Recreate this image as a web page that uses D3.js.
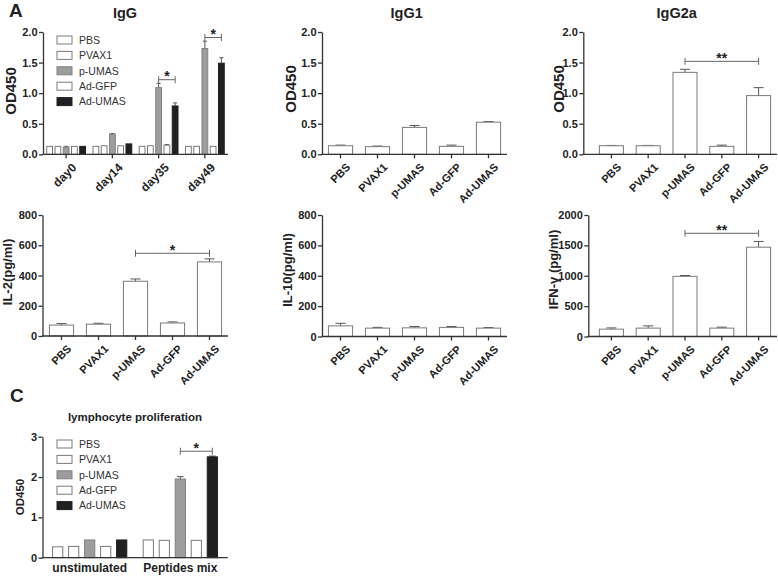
<!DOCTYPE html>
<html><head><meta charset="utf-8">
<script src="https://cdn.jsdelivr.net/npm/d3@7"></script>
<style>
body{margin:0;background:#fff}
svg{display:block}
text{font-family:"Liberation Sans",Arial,sans-serif;fill:#222}
</style>
</head><body>
<svg id="chart" width="778" height="576"></svg>
<script>
// ---------- data ----------
const groups = ["PBS", "PVAX1", "p-UMAS", "Ad-GFP", "Ad-UMAS"];
const days = ["day0", "day14", "day35", "day49"];
const stimuli = ["unstimulated", "Peptides mix"];

// IgG: rows = groups, columns = days
const iggMean = [
  [0.13, 0.13, 0.13, 0.13],
  [0.13, 0.14, 0.14, 0.13],
  [0.12, 0.33, 1.09, 1.73],
  [0.13, 0.14, 0.15, 0.13],
  [0.13, 0.17, 0.79, 1.49]
];
const iggErr = [
  [0.0, 0.0, 0.0, 0.0],
  [0.0, 0.0, 0.0, 0.0],
  [0.01, 0.01, 0.07, 0.12],
  [0.0, 0.0, 0.01, 0.0],
  [0.0, 0.0, 0.05, 0.09]
];
const igg1Mean = [0.14, 0.125, 0.44, 0.13, 0.525];
const igg1Err = [0.01, 0.01, 0.03, 0.02, 0.01];
const igg2aMean = [0.14, 0.14, 1.34, 0.13, 0.96];
const igg2aErr = [0.005, 0.005, 0.05, 0.02, 0.13];
const il2Mean = [72, 78, 362, 86, 490];
const il2Err = [10, 6, 15, 7, 20];
const il10Mean = [70, 55, 57, 60, 55];
const il10Err = [17, 5, 9, 6, 4];
const ifnMean = [121, 138, 990, 138, 1470];
const ifnErr = [20, 37, 14, 16, 95];
// lymphocyte proliferation: rows = groups, columns = stimuli
const lpMean = [
  [0.27, 0.44],
  [0.28, 0.43],
  [0.44, 1.95],
  [0.28, 0.43],
  [0.44, 2.50]
];
const lpErr = [
  [0.0, 0.0],
  [0.0, 0.0],
  [0.0, 0.06],
  [0.0, 0.0],
  [0.0, 0.02]
];
const yTicksOD = [0, 0.5, 1.0, 1.5, 2.0];
const yTicksIL = [0, 200, 400, 600, 800];
const yTicksIFN = [0, 500, 1000, 1500, 2000];
const yTicksLP = [0, 1, 2, 3];

// ---------- styles ----------
const fills = {"PBS": "#fff", "PVAX1": "#fff", "p-UMAS": "#9d9d9d", "Ad-GFP": "#fff", "Ad-UMAS": "#202020"};
const strokes = {"PBS": "#7a7a7a", "PVAX1": "#7a7a7a", "p-UMAS": "#808080", "Ad-GFP": "#7a7a7a", "Ad-UMAS": "#202020"};
const AX = "#333";

const svg = d3.select("#chart");
svg.append("rect").attr("width", 778).attr("height", 576).attr("fill", "#fff");

function yAxis(g, y, x, ticks, fmt) {
  const ax = g.append("g").attr("transform", `translate(${x},0)`)
    .call(d3.axisLeft(y).tickValues(ticks).tickFormat(fmt).tickSize(4).tickSizeOuter(0).tickPadding(1.5));
  ax.attr("font-family", null).attr("font-size", null);
  ax.select(".domain").attr("stroke", AX).attr("stroke-width", 1.3);
  ax.selectAll(".tick line").attr("stroke", AX).attr("stroke-width", 1.3);
  ax.selectAll(".tick text").attr("font-size", 11).attr("font-weight", "bold");
}

function xAxisLine(g, x0, x1, yb) {
  g.append("line").attr("x1", x0 - 0.6).attr("x2", x1).attr("y1", yb).attr("y2", yb)
    .attr("stroke", AX).attr("stroke-width", 1.3);
}

function xTicks(g, centers, labels, yb, size) {
  centers.forEach((cx, i) => {
    g.append("line").attr("x1", cx).attr("x2", cx).attr("y1", yb).attr("y2", yb + 4)
      .attr("stroke", AX).attr("stroke-width", 1.3);
    g.append("text").attr("transform", `translate(${cx + 5},${yb + 8}) rotate(-45)`)
      .attr("text-anchor", "end").attr("dy", "0.71em")
      .attr("font-size", size).attr("font-weight", "bold").text(labels[i]);
  });
}

function bar(g, x, w, y, v, e, grp) {
  const y0 = y(0);
  const cx = x + w / 2;
  if (e > 0) {
    const cap = Math.min(10, w * 0.6);
    g.append("line").attr("x1", cx).attr("x2", cx).attr("y1", y(v)).attr("y2", y(v + e))
      .attr("stroke", "#555").attr("stroke-width", 1);
    g.append("line").attr("x1", cx - cap / 2).attr("x2", cx + cap / 2).attr("y1", y(v + e)).attr("y2", y(v + e))
      .attr("stroke", "#555").attr("stroke-width", 1);
  }
  g.append("rect").attr("x", x + 0.5).attr("y", y(v)).attr("width", w - 1).attr("height", y0 - y(v))
    .attr("fill", fills[grp]).attr("stroke", strokes[grp]).attr("stroke-width", 1);
}

function sig(g, xa, xb, ys, label) {
  g.append("line").attr("x1", xa).attr("x2", xb).attr("y1", ys).attr("y2", ys).attr("stroke", "#666").attr("stroke-width", 1);
  [xa, xb].forEach(xx => g.append("line").attr("x1", xx).attr("x2", xx).attr("y1", ys - 3.5).attr("y2", ys + 3.5)
    .attr("stroke", "#666").attr("stroke-width", 1));
  g.append("text").attr("x", (xa + xb) / 2).attr("y", ys + 1.5).attr("text-anchor", "middle")
    .attr("font-size", 14).attr("font-weight", "bold").text(label);
}

function yLabel(g, x, cy, txt, size, weight) {
  g.append("text").attr("transform", `translate(${x},${cy}) rotate(-90)`).attr("text-anchor", "middle")
    .attr("font-size", size).attr("font-weight", weight).text(txt);
}

function legend(g, x, y0) {
  groups.forEach((grp, i) => {
    const yy = y0 + i * 15.4;
    g.append("rect").attr("x", x).attr("y", yy - 4).attr("width", 15).attr("height", 8)
      .attr("fill", fills[grp]).attr("stroke", strokes[grp]).attr("stroke-width", 1);
    g.append("text").attr("x", x + 22).attr("y", yy).attr("dy", "0.36em").attr("font-size", 10.5)
      .style("fill", "#333").text(grp);
  });
}

function title(x, y, txt, size) {
  svg.append("text").attr("x", x).attr("y", y).attr("text-anchor", "middle")
    .attr("font-size", size).attr("font-weight", "bold").text(txt);
}

// ---------- panel A: IgG grouped ----------
{
  const g = svg.append("g");
  const y = d3.scaleLinear().domain([0, 2]).range([154.3, 32]);
  const xo = d3.scaleBand().domain(days).range([43, 228]).paddingInner(0.14).paddingOuter(0.07);
  const xi = d3.scaleBand().domain(groups).range([0, xo.bandwidth()]).paddingInner(0.18);
  groups.forEach((grp, gi) => days.forEach((d, di) => {
    bar(g, xo(d) + xi(grp), xi.bandwidth(), y, iggMean[gi][di], iggErr[gi][di], grp);
  }));
  xAxisLine(g, 43, 228, y(0));
  yAxis(g, y, 43, yTicksOD, d3.format(".1f"));
  xTicks(g, days.map(d => xo(d) + xo.bandwidth() / 2), days, y(0), 12);
  const c = (d, grp) => xo(d) + xi(grp) + xi.bandwidth() / 2;
  sig(g, c("day35", "p-UMAS"), c("day35", "Ad-UMAS"), y(1.22), "*");
  sig(g, c("day49", "p-UMAS"), c("day49", "Ad-UMAS"), y(1.91), "*");
  legend(g, 57, 40);
  yLabel(g, 15.5, 91, "OD450", 15, "bold");
  title(125, 18, "IgG", 14.5);
}

// ---------- simple 5-bar panels ----------
function simplePanel(opt) {
  const g = svg.append("g");
  const y = d3.scaleLinear().domain([0, opt.max]).range(opt.yr);
  const x = d3.scaleBand().domain(groups).range(opt.xr).paddingInner(0.32).paddingOuter(0.16);
  groups.forEach((grp, i) => bar(g, x(grp), x.bandwidth(), y, opt.mean[i], opt.err[i], "PBS"));
  xAxisLine(g, opt.ax, opt.xr[1], y(0));
  yAxis(g, y, opt.ax, opt.ticks, opt.fmt);
  xTicks(g, groups.map(d => x(d) + x.bandwidth() / 2), groups, y(0), 11);
  if (opt.sig) {
    const c = grp => x(grp) + x.bandwidth() / 2;
    sig(g, c("p-UMAS"), c("Ad-UMAS"), y(opt.sig[0]), opt.sig[1]);
  }
  yLabel(g, opt.lab[0], opt.lab[1], opt.label, opt.lab[2], "bold");
}

simplePanel({max: 2, yr: [154.3, 32], xr: [322, 507], ax: 322, ticks: yTicksOD, fmt: d3.format(".1f"),
  mean: igg1Mean, err: igg1Err, label: "OD450", lab: [295.5, 89, 15]});
title(406.7, 18, "IgG1", 14.5);
simplePanel({max: 2, yr: [154.3, 32], xr: [593, 777], ax: 583.3, ticks: yTicksOD, fmt: d3.format(".1f"),
  mean: igg2aMean, err: igg2aErr, label: "OD450", lab: [563.5, 89, 15], sig: [1.52, "**"]});
title(676.7, 18, "IgG2a", 14.5);

simplePanel({max: 800, yr: [336, 215], xr: [43, 228], ax: 42.5, ticks: yTicksIL, fmt: d3.format("d"),
  mean: il2Mean, err: il2Err, label: "IL-2(pg/ml)", lab: [12, 272, 13], sig: [547, "*"]});
simplePanel({max: 800, yr: [336.5, 215], xr: [322, 507], ax: 322, ticks: yTicksIL, fmt: d3.format("d"),
  mean: il10Mean, err: il10Err, label: "IL-10(pg/ml)", lab: [292, 270, 13]});
simplePanel({max: 2000, yr: [336.5, 215], xr: [593, 777], ax: 588.3, ticks: yTicksIFN, fmt: d3.format("d"),
  mean: ifnMean, err: ifnErr, label: "IFN-γ (pg/ml)", lab: [558, 269.5, 13], sig: [1699, "**"]});

// ---------- panel C ----------
{
  const g = svg.append("g");
  const y = d3.scaleLinear().domain([0, 3]).range([557.7, 436.7]);
  const xo = d3.scaleBand().domain(stimuli).range([43, 227]).paddingInner(0.17).paddingOuter(0.1);
  const xi = d3.scaleBand().domain(groups).range([0, xo.bandwidth()]).paddingInner(0.3);
  groups.forEach((grp, gi) => stimuli.forEach((s, si) => {
    bar(g, xo(s) + xi(grp), xi.bandwidth(), y, lpMean[gi][si], lpErr[gi][si], grp);
  }));
  xAxisLine(g, 42.5, 227.7, y(0));
  yAxis(g, y, 42.5, yTicksLP, d3.format("d"));
  stimuli.forEach(s => g.append("text").attr("x", xo(s) + xo.bandwidth() / 2).attr("y", 571.5)
    .attr("text-anchor", "middle").attr("font-size", 12).attr("font-weight", "bold").text(s));
  const c = (s, grp) => xo(s) + xi(grp) + xi.bandwidth() / 2;
  sig(g, c("Peptides mix", "p-UMAS"), c("Peptides mix", "Ad-UMAS"), y(2.64), "*");
  legend(g, 57, 444);
  yLabel(g, 23.5, 497, "OD450", 11.5, "bold");
  title(135, 421, "lymphocyte proliferation", 11.5);
}

// panel letters
svg.append("text").attr("x", 9).attr("y", 17).attr("font-size", 19).attr("font-weight", "bold").text("A");
svg.append("text").attr("x", 10).attr("y", 402).attr("font-size", 19).attr("font-weight", "bold").text("C");
</script>
</body></html>
